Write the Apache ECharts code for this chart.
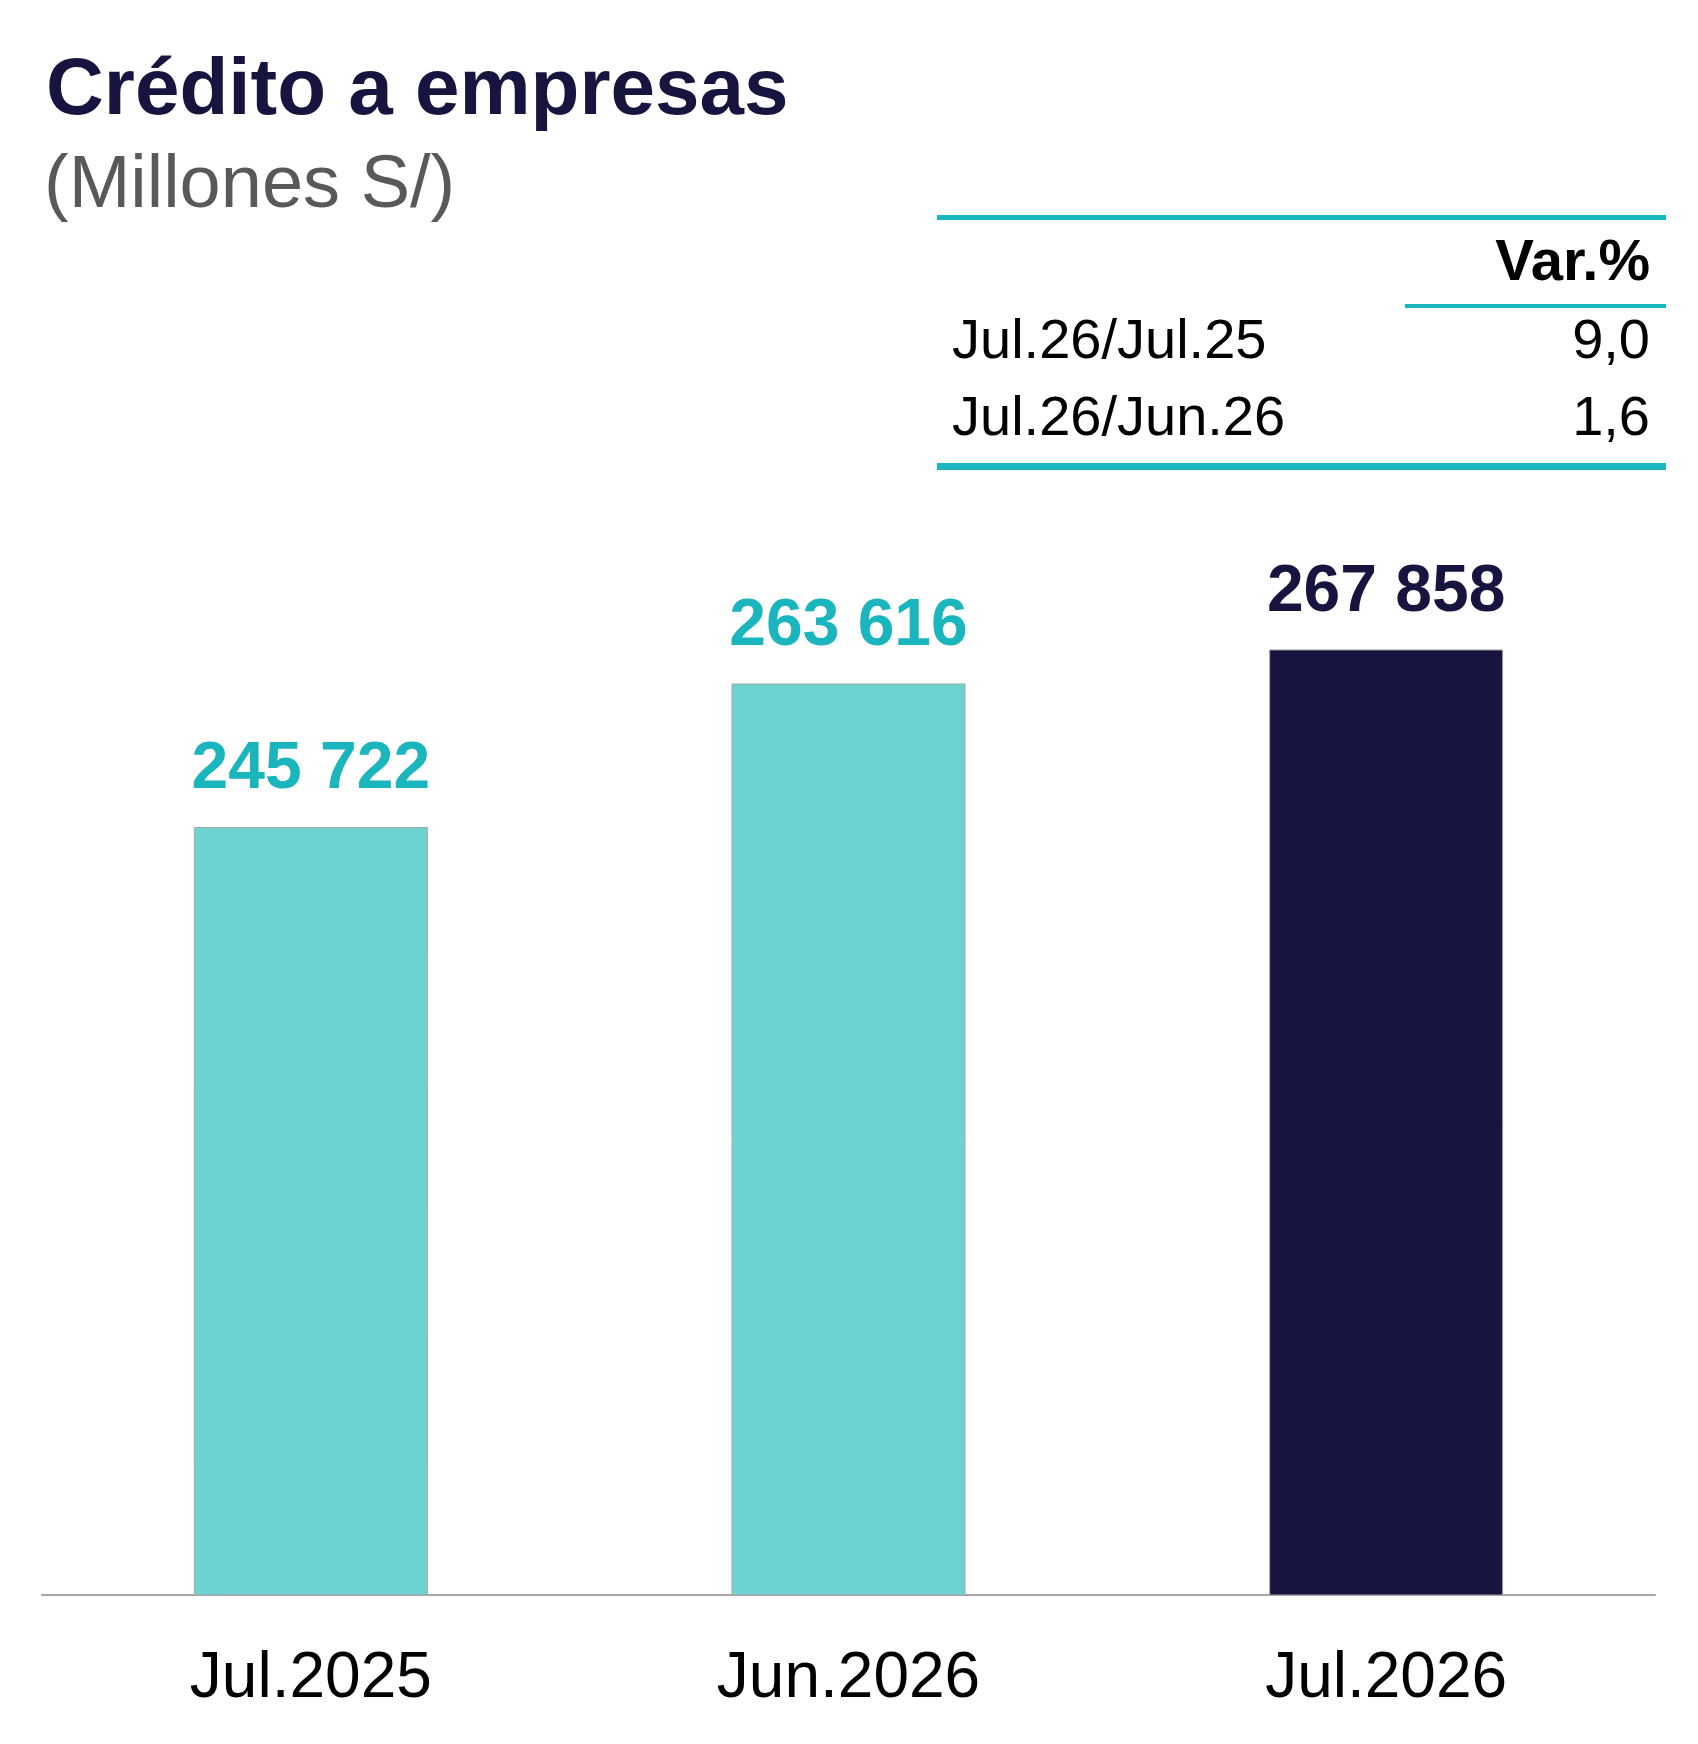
<!DOCTYPE html>
<html><head><meta charset="utf-8">
<script src="https://cdn.jsdelivr.net/npm/echarts@6/dist/echarts.min.js"></script>
<style>html,body{margin:0;padding:0;background:#fff}#c{width:1698px;height:1744px}</style>
</head><body><div id="c"></div>
<script>
const categories = ['Jul.2025','Jun.2026','Jul.2026'];
const values = [245722, 263616, 267858];
const barColors = ['#6DD3D0','#6DD3D0','#17153F'];
const labelColors = ['#1BB5BD','#1BB5BD','#17153F'];
const tableRows = [['Jul.26/Jul.25','9,0'],['Jul.26/Jun.26','1,6']];
const F = '"Liberation Sans", Arial, sans-serif';
const teal = '#1AB5BE';
const fmt = v => String(v).replace(/\B(?=(\d{3})+(?!\d))/g,' ');
const chart = echarts.init(document.getElementById('c'));
const g = [
  {type:'text',left:46,top:52,style:{text:'Crédito a empresas',font:'bold 80px '+F,fill:'#17153F'}},
  {type:'text',left:44,top:150,style:{text:'(Millones S/)',font:'74px '+F,fill:'#595959'}},
  {type:'rect',shape:{x:937,y:215,width:729,height:5},style:{fill:teal}},
  {type:'text',x:1650,y:264,style:{text:'Var.%',font:'bold 58px '+F,fill:'#000',align:'right',verticalAlign:'middle'}},
  {type:'rect',shape:{x:1405,y:304,width:261,height:4},style:{fill:teal}},
  {type:'rect',shape:{x:937,y:463,width:729,height:7},style:{fill:teal}}
];
tableRows.forEach((r,i)=>{
  const y = 343 + i*77;
  g.push({type:'text',x:952,y:y,style:{text:r[0],font:'56px '+F,fill:'#000',verticalAlign:'middle'}});
  g.push({type:'text',x:1650,y:y,style:{text:r[1],font:'56px '+F,fill:'#000',align:'right',verticalAlign:'middle'}});
});
chart.setOption({
  animation:false,
  graphic:g,
  grid:{left:42,right:43,top:191,bottom:149,containLabel:false},
  xAxis:{type:'category',data:categories,axisTick:{show:false},
    axisLine:{lineStyle:{color:'#A6A6A6',width:2}},
    axisLabel:{fontFamily:F,fontSize:64,color:'#000',margin:52}},
  yAxis:{type:'value',min:150000,max:325000,show:false,splitLine:{show:false}},
  series:[{type:'bar',barWidth:234,
    data:values.map((v,i)=>({value:v,itemStyle:{color:barColors[i],borderColor:'#A6A6A6',borderWidth:1},
      label:{color:labelColors[i]}})),
    label:{show:true,position:'top',distance:24,fontFamily:F,fontWeight:'bold',fontSize:66,formatter:p=>fmt(p.value)}}]
});
</script></body></html>
